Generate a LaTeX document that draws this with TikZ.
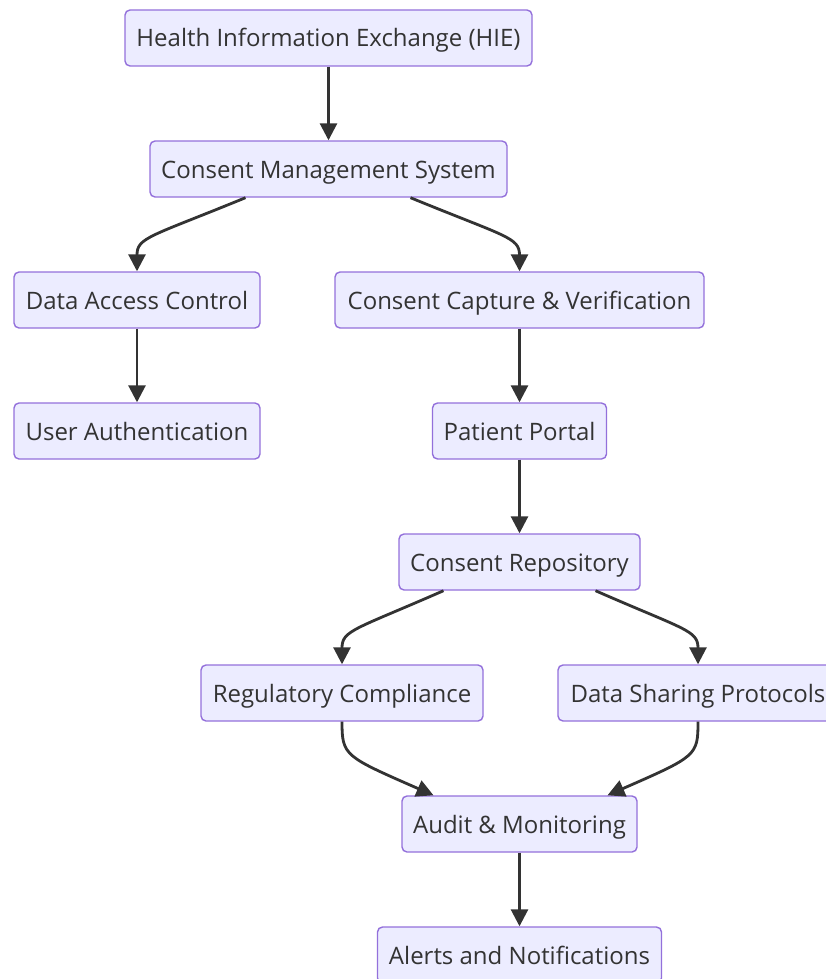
\documentclass[tikz,border=0pt]{standalone}
\usepackage{fontspec}
\setmainfont{Open Sans}
\usetikzlibrary{arrows.meta,calc}
\definecolor{nodefill}{HTML}{ECECFF}
\definecolor{nodeline}{HTML}{9370DB}
\definecolor{ink}{HTML}{333333}
\tikzset{
  box/.style={draw=nodeline, fill=nodefill, line width=1.4pt, rounded corners=5pt,
    minimum height=56pt, inner sep=0pt, text=ink, font=\fontsize{24}{28}\selectfont,
    text height=24pt, text depth=6pt, anchor=center},
  edge/.style={draw=ink, line width=2.8pt, -{Triangle[length=17pt,width=17pt]}}
}
\begin{document}
\begin{tikzpicture}[x=1pt,y=-1pt]
\useasboundingbox (0,0) rectangle (825,979);
\node[box, minimum width=407pt] (hie) at (328.5,38) {Health Information Exchange (HIE)};
\node[box, minimum width=357pt] (cms) at (328.5,169) {Consent Management System};
\node[box, minimum width=246pt] (dac) at (137,300) {Data Access Control};
\node[box, minimum width=369pt] (ccv) at (519.5,300) {Consent Capture \& Verification};
\node[box, minimum width=246pt] (ua) at (137,431) {User Authentication};
\node[box, minimum width=174pt] (pp) at (519.5,431) {Patient Portal};
\node[box, minimum width=241pt] (cr) at (519.5,562) {Consent Repository};
\node[box, minimum width=282pt] (rc) at (342,693) {Regulatory Compliance};
\node[box, minimum width=280pt] (dsp) at (698,693) {Data Sharing Protocols};
\node[box, minimum width=235pt] (am) at (519.5,824) {Audit \& Monitoring};
\node[box, minimum width=284pt] (an) at (519.5,955) {Alerts and Notifications};

\draw[edge] (hie.south) -- (cms.north);
\draw[edge] ([xshift=-83pt]cms.south) .. controls +(-95,39) and +(0,-34) .. (dac.north);
\draw[edge] ([xshift=82pt]cms.south) .. controls +(95,39) and +(0,-34) .. (ccv.north);
\draw[edge] (dac.south) -- (ua.north);
\draw[edge] (ccv.south) -- (pp.north);
\draw[edge] (pp.south) -- (cr.north);
\draw[edge] ([xshift=-76pt]cr.south) .. controls +(-89,39) and +(0,-34) .. (rc.north);
\draw[edge] ([xshift=76pt]cr.south) .. controls +(89,39) and +(0,-34) .. (dsp.north);
\draw[edge] (rc.south) .. controls +(0,34) and +(-89,-39) .. ([xshift=-86pt]am.north);
\draw[edge] (dsp.south) .. controls +(0,34) and +(89,-39) .. ([xshift=88pt]am.north);
\draw[edge] (am.south) -- (an.north);
\end{tikzpicture}
\end{document}
